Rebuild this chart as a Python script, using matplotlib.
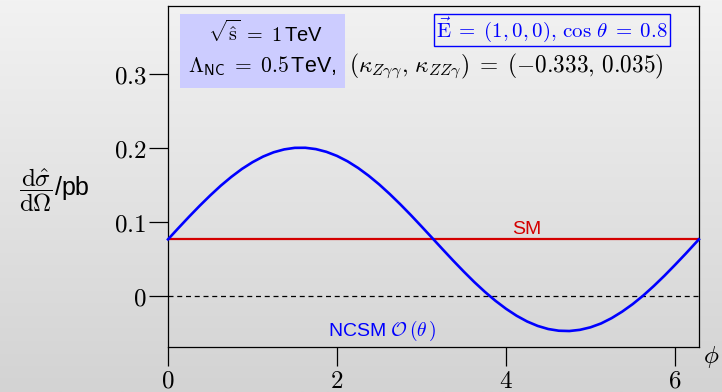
import numpy as np
import matplotlib
matplotlib.use("Agg")
import matplotlib.pyplot as plt
from matplotlib.patches import Rectangle
from matplotlib.ticker import FuncFormatter

# curve values
phi = [0.000, 0.125, 0.250, 0.375, 0.500, 0.625, 0.750, 0.875, 1.000, 1.125,
       1.250, 1.375, 1.500, 1.625, 1.750, 1.875, 2.000, 2.125, 2.250, 2.375,
       2.500, 2.625, 2.750, 2.875, 3.000, 3.125, 3.250, 3.375, 3.500, 3.625,
       3.750, 3.875, 4.000, 4.125, 4.250, 4.375, 4.500, 4.625, 4.750, 4.875,
       5.000, 5.125, 5.250, 5.375, 5.500, 5.625, 5.750, 5.875, 6.000, 6.125,
       6.250, 6.283]
ncsm = [0.0765, 0.0920, 0.1072, 0.1219, 0.1359, 0.1491, 0.1610, 0.1717, 0.1808, 0.1884,
        0.1942, 0.1981, 0.2002, 0.2003, 0.1985, 0.1948, 0.1893, 0.1820, 0.1730, 0.1625,
        0.1507, 0.1377, 0.1238, 0.1092, 0.0940, 0.0786, 0.0631, 0.0478, 0.0330, 0.0188,
        0.0056, -0.0065, -0.0173, -0.0267, -0.0345, -0.0405, -0.0447, -0.0470, -0.0474, -0.0458,
        -0.0424, -0.0372, -0.0300, -0.0212, -0.0110, 0.0006, 0.0135, 0.0273, 0.0419, 0.0569,
        0.0724, 0.0765]
sm_value = 0.0765
xticks = [0, 2, 4, 6]
yticks = [0, 0.1, 0.2, 0.3]

plt.rcParams['mathtext.fontset'] = 'cm'
plt.rcParams['font.family'] = ['Liberation Sans', 'DejaVu Sans']

fig = plt.figure(figsize=(7.22, 3.92), dpi=100)

# gradient background over the whole figure
bg = fig.add_axes([0, 0, 1, 1], zorder=-10)
grad = np.linspace(0, 1, 256).reshape(-1, 1)
bg.imshow(grad, aspect='auto', cmap=matplotlib.colors.LinearSegmentedColormap.from_list(
    'bg', ['#f2f2f2', '#d3d3d3']), extent=[0, 1, 0, 1], origin='upper')
bg.axis('off')

ax = fig.add_axes([0.2327, 0.1148, 0.7353, 0.87])
ax.set_facecolor('none')

ax.plot(phi, ncsm, color='#0000ff', lw=1.9, zorder=3, clip_on=False)
ax.axhline(sm_value, color='#d40000', lw=1.6, zorder=2)
ax.axhline(0, color='black', lw=0.9, ls=(0, (4, 3)), zorder=1)

ax.set_xlim(0, 2 * np.pi)
ax.set_ylim(-0.069, 0.392)
ax.set_xticks(xticks)
ax.set_yticks(yticks)
fmt = FuncFormatter(lambda v, p: f"${v:g}$")
ax.xaxis.set_major_formatter(fmt)
ax.yaxis.set_major_formatter(fmt)
ax.tick_params(direction='out', length=13.5, width=0.9, labelsize=18, pad=2)
for s in ax.spines.values():
    s.set_linewidth(0.9)

ax.text(4.25, 0.079, "SM", color='#d40000', fontsize=14, ha='center', va='bottom')
ax.text(2.53, -0.064, r"NCSM $\mathcal{O}\,(\theta\,)$", color='#0000ff', fontsize=14,
        ha='center', va='bottom')

# info boxes
fig.patches.append(Rectangle((180 / 722, 1 - 88 / 392), 165 / 722, 74 / 392,
                             transform=fig.transFigure, facecolor='#ccccff',
                             edgecolor='none', zorder=1))
fig.text(265 / 722, 1 - 33 / 392, r"$\sqrt{\hat{\mathrm{s}}}\;=\;1\,$TeV", fontsize=14.5,
         ha='center', va='center')
fig.text(262 / 722, 1 - 66 / 392, r"$\Lambda_{\mathsf{NC}}\;=\;0.5\,$TeV,", fontsize=15.5,
         ha='center', va='center')
fig.text(349 / 722, 1 - 66 / 392,
         r"$(\kappa_{Z\gamma\gamma},\,\kappa_{ZZ\gamma})\;=\;(-0.333,\,0.035)$",
         fontsize=16.8, ha='left', va='center')
fig.text(552 / 722, 1 - 30 / 392,
         r"$\vec{\mathrm{E}}\;=\;(1,0,0),\,\cos\,\theta\;=\;0.8$", fontsize=15,
         color='#0000ff', ha='center', va='center',
         bbox=dict(boxstyle='square,pad=0.1', facecolor='none',
                   edgecolor='#0000ff', lw=1.0))

fig.text(54 / 722, 1 - 190 / 392,
         r"$\dfrac{\mathrm{d}\hat{\sigma}}{\mathrm{d}\Omega}$/pb", fontsize=18,
         ha='center', va='center')
fig.text(711 / 722, 1 - 357 / 392, r"$\phi$", fontsize=18, ha='center', va='center')

fig.savefig("out.png", dpi=100)
